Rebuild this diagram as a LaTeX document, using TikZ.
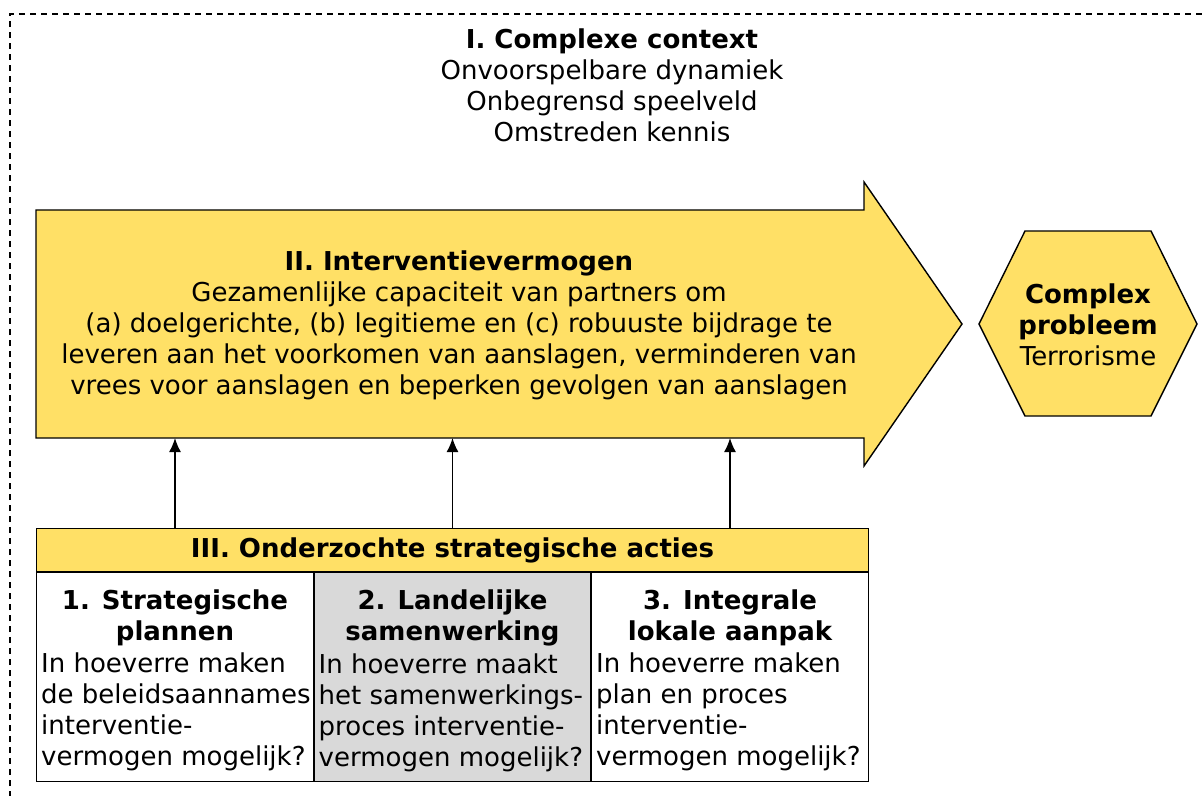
\documentclass[tikz,border=0pt]{standalone}
\usepackage{fontspec}
\setmainfont{DejaVu Sans}
\usetikzlibrary{positioning,arrows.meta}

\definecolor{geel}{HTML}{FFE066}
\definecolor{grijs}{HTML}{D9D9D9}
\newcommand{\basis}{\fontsize{13}{15.5}\selectfont}

\tikzset{
  kolom/.style={rectangle,draw,line width=0.7pt,minimum width=138.5pt,minimum height=104.5pt,inner sep=0pt},
  kop/.style={align=center,inner sep=0pt,font=\basis\bfseries},
  tekst/.style={align=left,inner sep=0pt,font=\basis},
  pijl/.style={-{Latex[length=7pt,width=6pt]},line width=0.75pt},
}

\begin{document}
\begin{tikzpicture}[x=0.5pt,y=-0.5pt,font=\basis]
\useasboundingbox (0,0) rectangle (1203,796);
% kader complexe context
\draw[line width=0.9pt,dash pattern=on 3pt off 2.5pt] (10,830) -- (10,14) -- (1240,14);
\node[align=center,inner sep=0pt] (ctx) at (612,85)
  {\textbf{I. Complexe context}\\Onvoorspelbare dynamiek\\Onbegrensd speelveld\\Omstreden kennis};

% grote pijl
\draw[fill=geel,line width=0.7pt] (36,210) -- (864,210) -- (864,182) -- (962,324)
  -- (864,466) -- (864,438) -- (36,438) -- cycle;
\coordinate (pijlbodem) at (36,438);
\node[align=center,inner sep=0pt] (iv) at (459,325)
  {\textbf{II. Interventievermogen}\\Gezamenlijke capaciteit van partners om\\
   (a) doelgerichte, (b) legitieme en (c) robuuste bijdrage te\\
   leveren aan het voorkomen van aanslagen, verminderen van\\
   vrees voor aanslagen en beperken gevolgen van aanslagen};

% zeshoek
\draw[fill=geel,line width=0.7pt] (979,324) -- (1025,231) -- (1151,231) -- (1197,324)
  -- (1151,416) -- (1025,416) -- cycle;
\node[align=center,inner sep=0pt] (prob) at (1088,325)
  {\textbf{Complex}\\\textbf{probleem}\\Terrorisme};

% strategische acties
\node[kolom,fill=geel,minimum width=416pt,minimum height=21.5pt,font=\basis\bfseries] (acties) at (452.5,550)
  {III. Onderzochte strategische acties};
\node[kolom,fill=white] (k1) at (175,677) {};
\node[kolom,fill=grijs] (k2) at (452.5,677) {};
\node[kolom,fill=white] (k3) at (730,677) {};

\node[kop,anchor=north] (t1) at ([yshift=-9pt]k1.north) {1. Strategische\\plannen};
\node[kop,anchor=north] (t2) at ([yshift=-9pt]k2.north) {2. Landelijke\\samenwerking};
\node[kop,anchor=north] (t3) at ([yshift=-9pt]k3.north) {3. Integrale\\lokale aanpak};

\node[tekst,anchor=north west] (b1) at ([xshift=2.5pt,yshift=-3pt]t1.south -| k1.west)
  {In hoeverre maken\\de beleidsaannames\\interventie-\\vermogen mogelijk?};
\node[tekst,anchor=north west] (b2) at ([xshift=2.5pt,yshift=-3pt]t2.south -| k2.west)
  {In hoeverre maakt\\het samenwerkings-\\proces interventie-\\vermogen mogelijk?};
\node[tekst,anchor=north west] (b3) at ([xshift=2.5pt,yshift=-3pt]t3.south -| k3.west)
  {In hoeverre maken\\plan en proces\\interventie-\\vermogen mogelijk?};

% pijlen naar interventievermogen
\foreach \k in {k1,k2,k3}
  \draw[pijl] (acties.north -| \k.north) -- (\k.north |- pijlbodem);
\end{tikzpicture}
\end{document}
